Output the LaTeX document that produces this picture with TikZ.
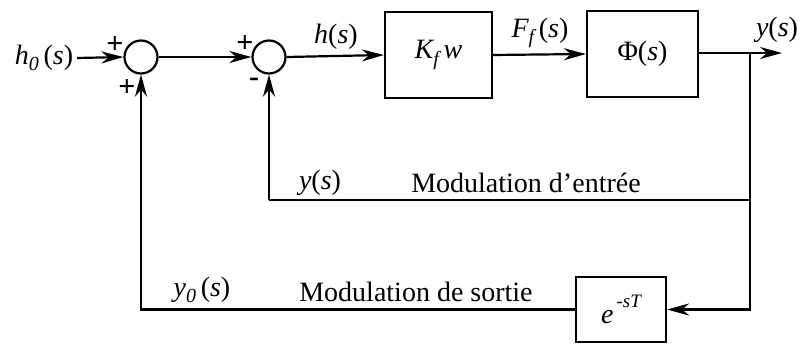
\documentclass[tikz,border=0pt]{standalone}
\usepackage{fontspec}
\setmainfont{LiberationSerif}[Extension=.ttf, UprightFont=*-Regular, ItalicFont=*-Italic, BoldFont=*-Bold, BoldItalicFont=*-BoldItalic]
\usetikzlibrary{arrows.meta}
\newcommand\lsub[1]{\raisebox{-0.22em}{\fontsize{20}{22}\selectfont\itshape #1}}
\newcommand\itx[1]{{\itshape #1}}
\begin{document}
\begin{tikzpicture}[x=1pt,y=-1pt, line width=2.2pt,
  every node/.style={font=\fontsize{28}{32}\selectfont, inner sep=0pt},
  sig/.style={-{Stealth[length=22pt,width=12pt,inset=7pt]}},
  blk/.style={draw, line width=2.2pt},
  sumnode/.style={draw, circle, minimum size=33pt, line width=2.2pt},
  sgn/.style={font=\fontsize{30}{32}\selectfont\bfseries}]
\useasboundingbox (0,0) rectangle (803,343);
% nodes
\node (h0) at (44,58) {\itx{h}\lsub{0}\,(\itx{s})};
\node[sumnode] (s1) at (141,57) {};
\node[sumnode] (s2) at (269,57) {};
\node[blk, minimum width=107pt, minimum height=86pt] (k) at (438.5,55) {\itx{K}\lsub{f}\,\itx{w}};
\node[blk, minimum width=111pt, minimum height=86pt] (phi) at (642.5,54) {Φ(\itx{s})};
\node[blk, minimum width=90pt, minimum height=65pt] (e) at (621,309.5) {\itx{e}\raisebox{0.6em}{\fontsize{19}{20}\selectfont\,-\itx{sT}}};
% signs
\node[sgn] (p1) at (115,45) {+};
\node[sgn] (p2) at (127,88) {+};
\node[sgn] (p3) at (245,44) {+};
\node[sgn] (m1) at (254,82) {-};
% labels
\node (lh) at (336,37) {\itx{h}(\itx{s})};
\node (lf) at (540,33) {\itx{F}\lsub{f}\,(\itx{s})};
\node (ly) at (777,30) {\itx{y}(\itx{s})};
\node (ly2) at (320,183) {\itx{y}(\itx{s})};
\node (lme) at (526,183) {Modulation d’entrée};
\node (ly0) at (202,290) {\itx{y}\lsub{0}\,(\itx{s})};
\node (lms) at (416,292) {Modulation de sortie};
% coordinates
\coordinate (br) at (750,53);
\coordinate (out) at (782,53);
\coordinate (ib) at (750,200);
\coordinate (il) at (269,200);
\coordinate (ob) at (750,309.5);
\coordinate (ol) at (141,311);
% connectors
\draw[sig] (h0.east) ++(3pt,0) -- (s1.west);
\draw[sig] (s1.east) -- (s2.west);
\draw[sig] (s2.east) -- (k.west);
\draw[sig] (k.east) -- (phi.west);
\draw[sig] (phi.east |- br) -- (out);
\draw (br) -- (ib) -- (il);
\draw[sig] (il) -- (s2.south);
\draw[sig] (ib) -- (ob) -- (e.east);
\draw (e.west) -- (e.west -| ol) -- (ol);
\draw[sig] (ol) -- (s1.south);
\end{tikzpicture}
\end{document}
